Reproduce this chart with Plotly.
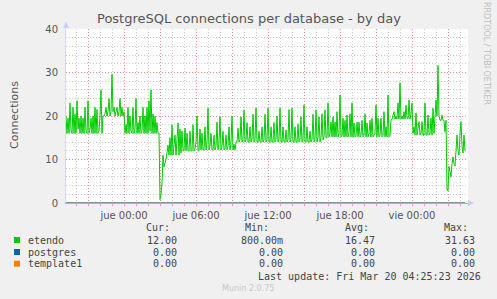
import plotly.graph_objects as go
import pandas as pd

# ---------------- data (5-minute samples starting mié 19:10) ----------------
start_time = "2026-03-18 19:10"
etendo = [
    # mié 19:10 - 22:15
    20, 16, 19.5, 16, 23, 16.5, 16, 22, 16, 20.5, 16, 23.5, 17, 19.5, 16, 20, 16, 19.5, 16, 22,
    16.5, 16, 23.5, 16, 17, 19.5, 16, 20, 16, 22, 16, 21.5, 16, 16.5, 20, 26, 16, 20,
    # mié 22:20 - jue 00:00 (elevated)
    20, 20.5, 22, 20, 21, 24, 20, 21, 29.6, 21, 22, 20, 21, 22, 20, 21, 24, 20, 22, 20, 21,
    # jue 00:05 - 02:50
    16, 18, 16, 22, 16, 20, 16.5, 16, 22, 16, 17, 24, 16, 18.5, 16, 20, 16, 16.5, 22, 16,
    20, 16, 22, 16, 23.5, 16.5, 26, 16, 20.5, 16, 20, 16, 18.5, 16,
    # jue 02:55 - 06:20 (drop and recovery)
    16, 0.8, 2, 4.6, 11, 8.3, 9, 10, 11.5, 13.3, 11, 15, 11, 18, 11, 14, 15.6, 11, 15, 18.4,
    11, 17, 11.5, 16.5, 12, 12, 17.2, 12, 16, 12, 12, 16.5, 12, 12, 18, 12, 12.5, 14, 20, 12,
    12, 17,
    # jue 06:25 - 09:20
    12.2, 16, 12.2, 12.2, 17.5, 12.2, 14, 21.8, 12.2, 13, 16, 12.2, 12.2, 15.6, 12.2, 13, 18.6, 12.2, 14, 19.8,
    12.2, 13, 16.5, 12.2, 12.5, 15.6, 12.2, 13, 17.5, 12.2, 14, 20, 12.2, 13.5, 12.2, 14,
    # jue 09:25 - 16:55
    14, 17.2, 14, 14.5, 19.8, 14, 14.5, 21.4, 14, 14.5, 18.5, 14, 14, 17.5, 14, 14.5, 20.4, 14, 14.5, 21.8,
    14, 14, 16.5, 14, 14, 17.5, 14, 14.5, 20.4, 14, 14.5, 21.8, 14, 14, 17.5, 14, 14, 18.5, 14, 14.5,
    20, 14, 14.5, 21.8, 14, 14, 17.5, 14, 14, 16.8, 14, 14.5, 21.5, 14, 14.5, 21.8, 14, 14, 17.5, 14,
    14, 18.2, 14, 14.5, 19.8, 14, 14.5, 22.5, 14, 14, 17.5, 14, 14, 16.5, 14, 14.5, 20.4, 14, 14.5, 21.4,
    14, 15, 19.8, 14, 15, 20.5, 14.5, 15, 21.4, 15, 15,
    # jue 17:00 - 22:10
    23, 15.2, 16, 18.6, 15.2, 19.8, 15.2, 18.6, 15.2, 21, 15.2, 16, 24.8, 15.2, 15.5, 19.5, 15.2, 19, 15.2, 20.2,
    15.2, 16, 20.5, 15.2, 23, 15.2, 18.4, 15.2, 15.5, 18.6, 15.2, 18.6, 15.2, 15.5, 19, 15.2, 15.5, 20.5, 15.2, 18.4,
    15.2, 16, 19, 15.2, 19.5, 15.2, 15.5, 16, 22.5, 15.2, 19.5, 15.2, 15.5, 19.5, 15.2, 15.5, 21, 15.2, 17.5, 15.2,
    24.8, 15.2, 15.5,
    # jue 22:15 - vie 00:00 (elevated)
    19, 19.3, 20, 21, 19.3, 20, 19.3, 23, 19.3, 27.6, 19.3, 20, 19.3, 21, 19.3, 22.5, 19.5, 19.3, 23.7, 19.3,
    20.5, 23,
    # vie 00:05 - 02:50
    16, 17.5, 15.6, 20.7, 15.6, 17, 18.7, 15.6, 16, 18.7, 15.6, 15.6, 23, 15.6, 15.6, 20.2, 15.6, 16, 19.5, 15.6,
    21.8, 16, 19, 23.7, 20, 31.63, 20, 19, 19, 20.2, 19, 19, 16.4, 19,
    # vie 02:55 - 04:25
    3, 2.8, 8.4, 7, 6, 9, 10.6, 9, 8.5, 12, 15.6, 12, 11, 16, 18.7, 13, 11.5, 15.6, 12,
]
postgres = [0] * len(etendo)
template1 = [0] * len(etendo)

series_names = ["etendo", "postgres", "template1"]
series_colors = ["#00cc00", "#0066b3", "#ff8000"]
stats_cur = ["12.00", "0.00", "0.00"]
stats_min = ["800.00m", "0.00", "0.00"]
stats_avg = ["16.47", "0.00", "0.00"]
stats_max = ["31.63", "0.00", "0.00"]

x_range = ["2026-03-18 19:10", "2026-03-20 04:40"]
tick_vals = ["2026-03-18 21:00", "2026-03-19 00:00", "2026-03-19 03:00", "2026-03-19 06:00",
             "2026-03-19 09:00", "2026-03-19 12:00", "2026-03-19 15:00", "2026-03-19 18:00",
             "2026-03-19 21:00", "2026-03-20 00:00", "2026-03-20 03:00"]
tick_text = ["", "jue 00:00", "", "jue 06:00", "", "jue 12:00", "", "jue 18:00", "", "vie 00:00", ""]

times = pd.date_range(start_time, periods=len(etendo), freq="5min")

# ---------------- layout helpers ----------------
W, H = 497, 299
L, R, T, B = 66, 468, 29, 203


def px(x):
    return (x - L) / (R - L)


def py(y):
    return (B - y) / (B - T)


FONT = "DejaVu Sans"
MONO = "DejaVu Sans Mono"
TXT = "#555555"
LEG = "#444444"

fig = go.Figure()
for name, vals, col in [("template1", template1, "#ff8000"),
                        ("postgres", postgres, "#0066b3"),
                        ("etendo", etendo, "#00cc00")]:
    fig.add_trace(go.Scatter(x=times, y=vals, mode="lines", name=name,
                             line=dict(color=col, width=1), showlegend=False))

ann = []
shapes = []


def add_text(text, x, y, xanchor="center", size=10, family=FONT, color=TXT, angle=0):
    ann.append(dict(text=text, x=px(x), y=py(y), xref="paper", yref="paper",
                    xanchor=xanchor, yanchor="middle", showarrow=False, textangle=angle,
                    font=dict(family=family, size=size, color=color)))


add_text("PostgreSQL connections per database - by day", 248.5, 19, size=13, color="#555555")
add_text("Connections", 15, 115, size=11, angle=-90)
add_text("RRDTOOL / TOBI OETIKER", 487, 53, size=8, color="#c0c0c0", angle=90)

for lbl, xr in [("Cur:", 172), ("Min:", 271), ("Avg:", 371), ("Max:", 470)]:
    add_text(lbl, xr, 227.5, xanchor="right", family=MONO, color=LEG)

row_y = [240, 252, 263.7]
for i, name in enumerate(series_names):
    yc = row_y[i]
    shapes.append(dict(type="rect", xref="paper", yref="paper", x0=px(14), x1=px(20),
                       y0=py(yc + 3), y1=py(yc - 3), fillcolor=series_colors[i],
                       line=dict(width=0)))
    add_text(name, 26, yc, xanchor="left", family=MONO, color=LEG)
    for val, xr in [(stats_cur[i], 179), (stats_min[i], 285), (stats_avg[i], 377), (stats_max[i], 477)]:
        add_text(val, xr, yc, xanchor="right", family=MONO, color=LEG)

add_text("Last update: Fri Mar 20 04:25:23 2026", 483, 276, xanchor="right", family=MONO, color=LEG)
add_text("Munin 2.0.75", 248, 288.5, size=8, color="#c8c8c8")

# axis arrows
shapes.append(dict(type="path", xref="paper", yref="paper",
                   path=f"M {px(63)} {py(28)} L {px(69)} {py(28)} L {px(66)} {py(21.5)} Z",
                   fillcolor="#c8d0f8", line=dict(width=0)))
shapes.append(dict(type="path", xref="paper", yref="paper",
                   path=f"M {px(468)} {py(200)} L {px(468)} {py(206)} L {px(474)} {py(203)} Z",
                   fillcolor="#c8d0f8", line=dict(width=0)))

MAJ = "rgba(235,120,120,0.75)"
MIN = "rgba(190,190,190,0.85)"

fig.update_layout(
    width=W, height=H,
    margin=dict(l=L, r=W - R, t=T, b=H - B, pad=0),
    paper_bgcolor="#f0f0f0", plot_bgcolor="#ffffff",
    showlegend=False,
    annotations=ann, shapes=shapes,
    xaxis=dict(type="date", range=x_range, tickvals=tick_vals, ticktext=tick_text,
               showgrid=True, gridcolor=MAJ, griddash="1px,2px", gridwidth=1,
               minor=dict(dtick=3600000, tick0="2026-03-19 00:00", showgrid=True,
                          gridcolor=MIN, griddash="1px,2px", gridwidth=1,
                          ticks="outside", ticklen=2, tickcolor="#f0a0a0"),
               showline=True, linecolor="#e8a088", linewidth=1, zeroline=False,
               ticks="", tickfont=dict(family=FONT, size=10, color=TXT),
               ticklabelstandoff=3, fixedrange=True),
    yaxis=dict(range=[0, 40], tickvals=[0, 10, 20, 30, 40],
               showgrid=True, gridcolor=MAJ, griddash="1px,2px", gridwidth=1,
               minor=dict(dtick=2, showgrid=True, gridcolor=MIN, griddash="1px,2px", gridwidth=1),
               showline=True, linecolor="#d0d6f4", linewidth=1, zeroline=False,
               ticks="", tickfont=dict(family=FONT, size=10, color=TXT),
               ticklabelstandoff=5, fixedrange=True),
    font=dict(family=FONT),
)

fig.write_html("out.html", config={"displayModeBar": False})
